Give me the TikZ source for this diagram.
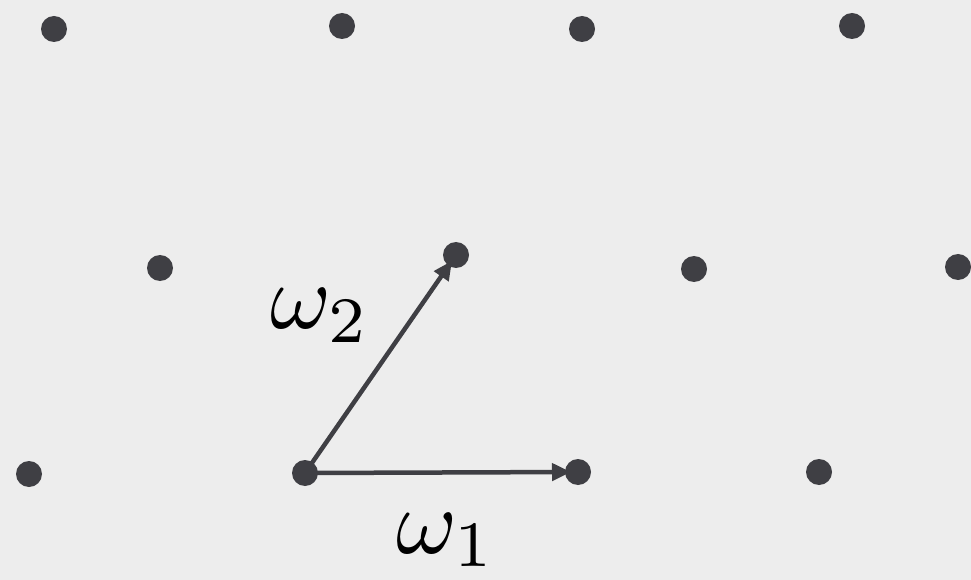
\documentclass[tikz,border=0pt]{standalone}
\usepackage{amsmath}
\usepackage{graphicx}
\usepackage{tikz}
\usetikzlibrary{arrows.meta}
\definecolor{Paper}{HTML}{EDEDED}
\definecolor{Ink}{HTML}{3F3F44}
\newcommand{\biglbl}[1]{\scalebox{9.3}{$#1$}}
\tikzset{
  pt/.style={circle,fill=Ink,inner sep=0pt,minimum size=26bp},
  vec/.style={-{Triangle[length=19bp,width=17bp]},line width=4.5bp,draw=Ink,shorten >=7bp},
  lbl/.style={inner sep=0pt,text=black}
}
\begin{document}
\begin{tikzpicture}[x=1bp,y=-1bp]
\fill[Paper] (0,0) rectangle (971,580);
\useasboundingbox (0,0) rectangle (971,580);
% lattice points
\node[pt] (p11) at (54,29) {};
\node[pt] (p12) at (342,26) {};
\node[pt] (p13) at (582,29) {};
\node[pt] (p14) at (852,26) {};
\node[pt] (p21) at (160,268) {};
\node[pt] (p22) at (456,255) {};
\node[pt] (p23) at (694,269) {};
\node[pt] (p24) at (958,267) {};
\node[pt] (p31) at (29,474) {};
\node[pt] (o) at (305,473) {};
\node[pt] (p33) at (578,472) {};
\node[pt] (p34) at (819,472) {};
% periods
\draw[vec] (o.center) -- (p33.center);
\draw[vec] (o.center) -- (p22.center);
\node[lbl] (w1) at (446,540) {\biglbl{\omega_1}};
\node[lbl] (w2) at (320,316) {\biglbl{\omega_2}};
\end{tikzpicture}
\end{document}
